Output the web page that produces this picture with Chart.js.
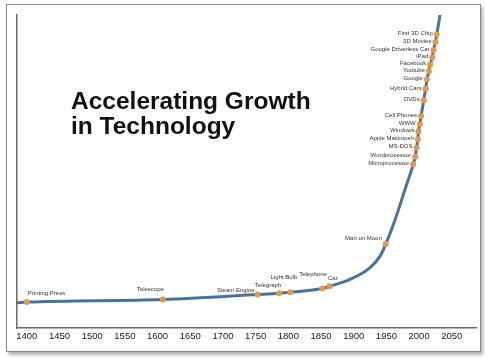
<!DOCTYPE html>
<html>
<head>
<meta charset="utf-8">
<script src="https://cdn.jsdelivr.net/npm/chart.js@4"></script>
<style>
  html, body { margin: 0; padding: 0; background: #fff; }
  #wrap { position: relative; width: 486px; height: 359px; overflow: hidden; }
  #frame {
    position: absolute; left: 6px; top: 4px; width: 473px; height: 346px;
    border: 1.5px solid #8a8a8a; box-shadow: 2px 3px 3px rgba(0,0,0,0.3);
  }
  #chart { position: absolute; left: 0; top: 0; }
  #title {
    position: absolute; left: 71px; top: 88px;
    font: bold 24.5px "Liberation Sans", Arial, sans-serif; line-height: 25px;
    color: #111; white-space: nowrap;
  }
</style>
</head>
<body>
<div id="wrap">
  <div id="frame"></div>
  <canvas id="chart" width="486" height="359"></canvas>
  <div id="title">Accelerating Growth<br>in Technology</div>
</div>
<script>
// events on the curve
const eventNames = ['Printing Press', 'Telescope', 'Steam Engine', 'Telegraph', 'Light Bulb', 'Telephone', 'Car',
    'Man on Moon', 'Microprocessor', 'Wordprocessor', 'MS-DOS', 'Apple Macintosh', 'Windows', 'WWW',
    'Cell Phones', 'DVDs', 'Hybrid Cars', 'Google', 'Youtube', 'Facebook', 'iPad', 'Google Driverless Car',
    '3D Movies', 'First 3D Chip'];
const eventYears = [1400, 1608, 1753, 1786, 1803, 1852, 1863,
    1949, 1991, 1994, 1996, 1998, 1999, 2001,
    2003, 2007, 2010, 2012, 2015, 2017, 2020, 2022,
    2025, 2027];
const eventValues = [8.3, 9.1, 10.7, 11.1, 11.4, 12.6, 13.3,
    26.8, 52.3, 54.7, 57.6, 60.2, 62.8, 65.1,
    67.7, 72.8, 76.4, 79.5, 82.0, 84.2, 86.5, 88.8,
    91.4, 93.8];

// other points (ends and the bend)
const lineYears = [1385, 1894, 1925, 1941, 1963, 1978, 2032];
const lineValues = [8.1, 15.5, 19.3, 23.2, 34.4, 44.0, 100];

const xTicks = [1400, 1450, 1500, 1550, 1600, 1650, 1700, 1750, 1800, 1850, 1900, 1950, 2000, 2050];

// label placement: [align, dx, dy]
const labelPos = {
    'Printing Press': ['left', 1, -9],
    'Telescope': ['right', 1, -10.5],
    'Steam Engine': ['right', -3, -4.5],
    'Telegraph': ['right', 2, -8],
    'Light Bulb': ['right', 7, -15],
    'Telephone': ['right', 4.5, -14.5],
    'Car': ['left', -1.5, -8],
    'Man on Moon': ['right', -4, -5.5]
};

const curve = eventYears.map((x, i) => ({x: x, y: eventValues[i]}))
    .concat(lineYears.map((x, i) => ({x: x, y: lineValues[i]})))
    .sort((a, b) => a.x - b.x);

const eventLabels = {
    id: 'eventLabels',
    afterDatasetsDraw(chart) {
        const ctx = chart.ctx;
        const xs = chart.scales.x, ys = chart.scales.y;
        ctx.save();
        ctx.font = '6px "Liberation Sans", Arial, sans-serif';
        ctx.fillStyle = '#333';
        ctx.textBaseline = 'middle';
        eventNames.forEach((name, i) => {
            const px = xs.getPixelForValue(eventYears[i]);
            const py = ys.getPixelForValue(eventValues[i]);
            const pos = labelPos[name] || ['right', -4, -1];
            ctx.textAlign = pos[0];
            ctx.fillText(name, px + pos[1], py + pos[2]);
        });
        ctx.restore();
    }
};

new Chart(document.getElementById('chart'), {
    type: 'scatter',
    data: {
        datasets: [{
            data: eventYears.map((x, i) => ({x: x, y: eventValues[i]})),
            pointRadius: 3,
            pointBackgroundColor: '#e8974a',
            pointBorderWidth: 0,
            showLine: false,
            order: 0
        }, {
            data: curve,
            showLine: true,
            borderColor: '#4a729c',
            borderWidth: 3,
            pointRadius: 0,
            cubicInterpolationMode: 'monotone',
            order: 1
        }]
    },
    options: {
        responsive: false,
        animation: false,
        devicePixelRatio: 1,
        layout: {padding: {left: 17, top: 15, right: 10, bottom: 11}},
        plugins: {legend: {display: false}, tooltip: {enabled: false}},
        scales: {
            x: {
                type: 'linear', min: 1385, max: 2087,
                grid: {display: false, drawTicks: false},
                border: {display: true, color: '#6b6b6b', width: 1.5},
                afterBuildTicks: (scale) => { scale.ticks = xTicks.map(v => ({value: v})); },
                afterFit: (scale) => { scale.height = 20; },
                ticks: {
                    autoSkip: false, maxRotation: 0, padding: 3, color: '#222',
                    font: {family: '"Liberation Sans", Arial, sans-serif', size: 9.5},
                    callback: (v) => String(v)
                }
            },
            y: {
                type: 'linear', min: 0, max: 100,
                grid: {display: false, drawTicks: false},
                border: {display: true, color: '#6b6b6b', width: 1.5},
                ticks: {display: false},
                afterFit: (scale) => { scale.width = 0; }
            }
        }
    },
    plugins: [eventLabels]
});
</script>
</body>
</html>
